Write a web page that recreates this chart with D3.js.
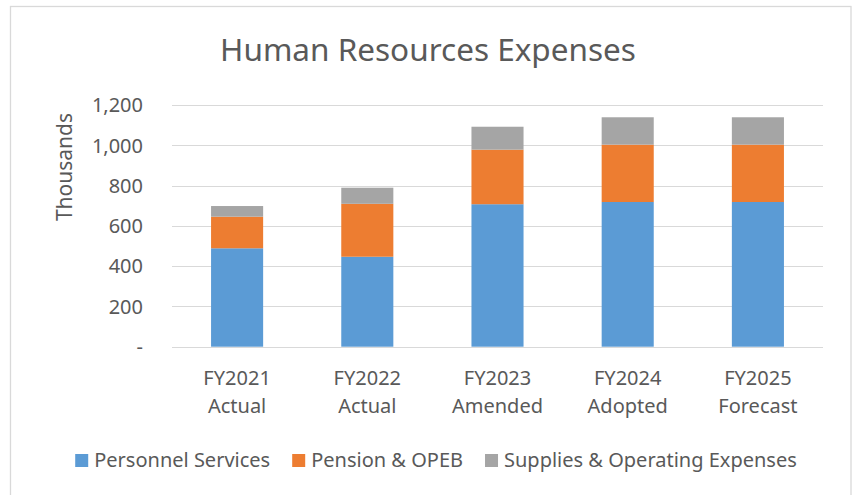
<!DOCTYPE html>
<html>
<head>
<meta charset="utf-8">
<script src="https://cdn.jsdelivr.net/npm/d3@7"></script>
<style>
  body { margin: 0; background: #fff; }
  text { font-family: "Noto Sans", "Open Sans", sans-serif; fill: #595959; }
</style>
</head>
<body>
<div id="chart"></div>
<script>

// data (thousands)
var categories = ["FY2021|Actual", "FY2022|Actual", "FY2023|Amended", "FY2024|Adopted", "FY2025|Forecast"];
var seriesNames = ["Personnel Services", "Pension & OPEB", "Supplies & Operating Expenses"];
var personnel = [489, 447, 708, 719, 719];
var pension = [157, 263, 271, 285, 285];
var supplies = [53, 80, 114, 136, 136];
var yTicks = [0, 200, 400, 600, 800, 1000, 1200];
var colors = ["#5B9BD5", "#ED7D31", "#A5A5A5"];

//width and height
var w = 856;
var h = 495;

var svg = d3.select("#chart")
            .append("svg")
            .attr("width", w)
            .attr("height", h);

// chart border
svg.append("rect")
    .attr("x", 10.5)
    .attr("y", 6.5)
    .attr("width", 840.5)
    .attr("height", 500)
    .attr("fill", "none")
    .attr("stroke", "#d9d9d9")
    .attr("stroke-width", 1.3);

var x = d3.scaleBand()
            .domain(categories)
            .range([172, 823])
            .paddingInner(0.6)
            .paddingOuter(0.3);

var y = d3.scaleLinear()
            .domain([0, 1200])
            .range([346.7, 105.2]);

// gridlines
svg.append("g")
    .selectAll("line")
    .data(yTicks)
    .enter()
    .append("line")
    .attr("x1", 172)
    .attr("x2", 823)
    .attr("y1", function(d){ return Math.round(y(d)) + 0.5; })
    .attr("y2", function(d){ return Math.round(y(d)) + 0.5; })
    .attr("stroke", "#d9d9d9")
    .attr("stroke-width", 1.2);

// y tick labels
svg.append("g")
    .selectAll("text")
    .data(yTicks)
    .enter()
    .append("text")
    .attr("x", 143)
    .attr("y", function(d){ return y(d); })
    .attr("dy", "0.36em")
    .attr("text-anchor", "end")
    .style("font-size", "20px")
    .text(function(d){ return d === 0 ? "-" : d3.format(",")(d); });

// stack the series
var rows = categories.map(function(c, i){
    return { cat: c, p: personnel[i], o: pension[i], s: supplies[i] };
});
var stack = d3.stack().keys(["p", "o", "s"]);
var layers = stack(rows);

svg.append("g")
    .selectAll("g")
    .data(layers)
    .enter()
    .append("g")
    .attr("fill", function(d, i){ return colors[i]; })
    .selectAll("rect")
    .data(function(d){ return d; })
    .enter()
    .append("rect")
    .attr("x", function(d){ return x(d.data.cat); })
    .attr("width", x.bandwidth())
    .attr("y", function(d){ return y(d[1]); })
    .attr("height", function(d){ return y(d[0]) - y(d[1]); });

// x labels, two lines each
var xl = svg.append("g")
    .selectAll("text")
    .data(categories)
    .enter()
    .append("text")
    .attr("text-anchor", "middle")
    .style("font-size", "20px");
xl.append("tspan")
    .attr("x", function(d){ return x(d) + x.bandwidth() / 2; })
    .attr("y", 385)
    .text(function(d){ return d.split("|")[0]; });
xl.append("tspan")
    .attr("x", function(d){ return x(d) + x.bandwidth() / 2; })
    .attr("y", 413)
    .text(function(d){ return d.split("|")[1]; });

// title
svg.append("text")
    .attr("x", 428)
    .attr("y", 61)
    .attr("text-anchor", "middle")
    .style("font-size", "31.5px")
    .text("Human Resources Expenses");

// y axis title
svg.append("text")
    .attr("transform", "translate(72,167) rotate(-90)")
    .attr("text-anchor", "middle")
    .style("font-size", "21px")
    .text("Thousands");

// legend
var legend = svg.append("g");
var items = legend.selectAll("g")
    .data(seriesNames)
    .enter()
    .append("g");
items.append("rect")
    .attr("width", 13)
    .attr("height", 13)
    .attr("y", 454)
    .attr("fill", function(d, i){ return colors[i]; });
items.append("text")
    .attr("x", 19)
    .attr("y", 467)
    .style("font-size", "20px")
    .text(function(d){ return d; });

var pos = 0;
var offsets = [];
items.each(function(){
    offsets.push(pos);
    pos += 19 + this.querySelector("text").getComputedTextLength() + 22;
});
var total = pos - 22;
var start = 436 - total / 2;
items.attr("transform", function(d, i){ return "translate(" + (start + offsets[i]) + ",0)"; });

</script>
</body>
</html>
